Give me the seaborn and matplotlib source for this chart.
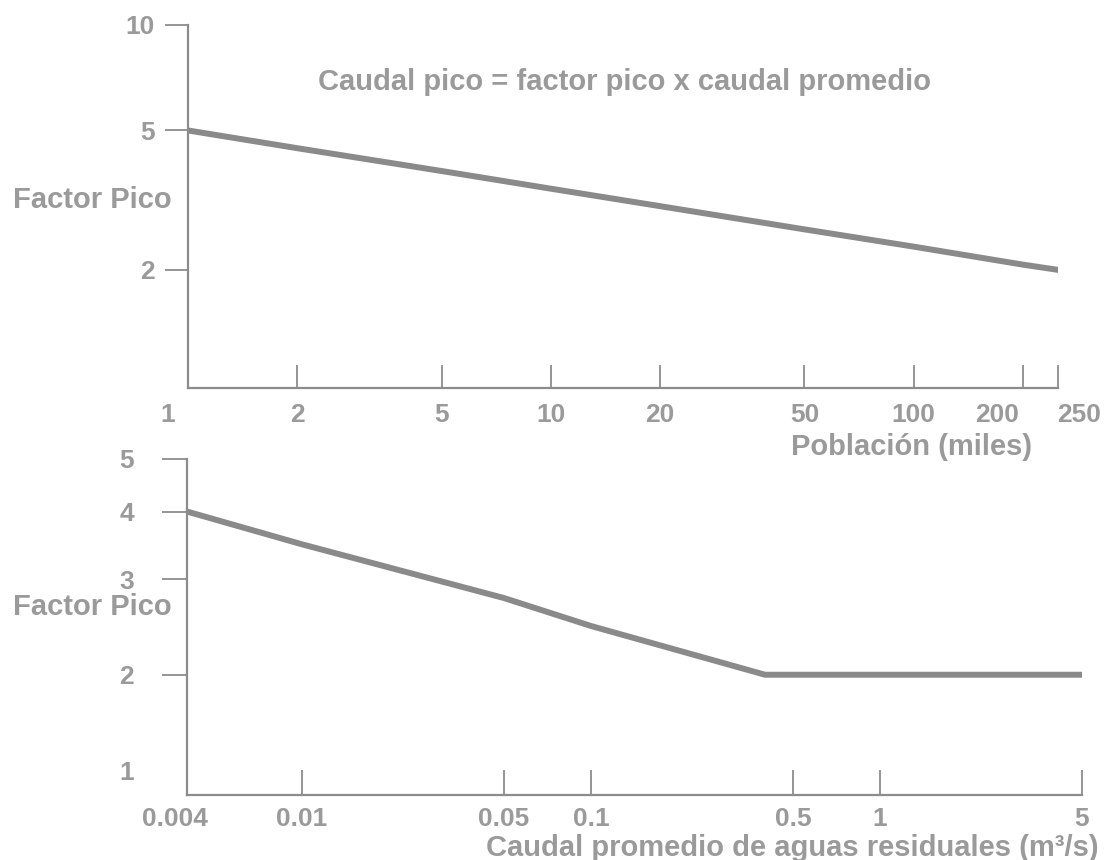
import seaborn as sns
import matplotlib.pyplot as plt
from matplotlib.ticker import NullLocator

# curva superior: factor pico vs poblacion (miles)
poblacion = [1, 2, 5, 10, 20, 50, 100, 200, 250]
factor_pob = [5.0, 4.45, 3.83, 3.41, 3.04, 2.61, 2.33, 2.07, 2.0]

# curva inferior: factor pico vs caudal promedio (m3/s)
caudal = [0.004, 0.01, 0.05, 0.1, 0.4, 5]
factor_caudal = [4.0, 3.48, 2.77, 2.46, 2.0, 2.0]

pob_ticks = [1, 2, 5, 10, 20, 50, 100, 200, 250]
pob_labels = ["1", "2", "5", "10", "20", "50", "100", "200", "250"]
pob_yticks = [2, 5, 10]
caudal_ticks = [0.004, 0.01, 0.05, 0.1, 0.5, 1, 5]
caudal_labels = ["0.004", "0.01", "0.05", "0.1", "0.5", "1", "5"]
caudal_yticks = [2, 3, 4, 5]
caudal_ymin_label = "1"

titulo = "Caudal pico = factor pico x caudal promedio"
ylabel = "Factor Pico"
xlabel_top = "Población (miles)"
xlabel_bot = "Caudal promedio de aguas residuales (m³/s)"

sns.set_style("ticks")
plt.rcParams["font.family"] = ["Liberation Sans", "DejaVu Sans"]
plt.rcParams["font.weight"] = "bold"

TXT = "#9a9a9a"
AX = "#8c8c8c"
LINE = "#8a8a8a"
PX = 72 / 100  # points per pixel
FS_TICK = 19
FS_LAB = 21

fig = plt.figure(figsize=(11.06, 8.6), dpi=100)
W, H = 1106, 860

def axes_px(l, t, r, b):
    return fig.add_axes([l / W, 1 - b / H, (r - l) / W, (b - t) / H])

def style(ax, tick_len, ypad):
    sns.despine(ax=ax)
    for s in ["left", "bottom"]:
        ax.spines[s].set_color(AX)
        ax.spines[s].set_linewidth(1.6)
    ax.tick_params(axis="x", which="major", direction="in", length=tick_len * PX,
                   width=1.3, color=AX, bottom=True, labelbottom=False)
    ax.tick_params(axis="y", which="major", direction="out", length=tick_len * PX,
                   width=1.3, color=AX, left=True, pad=ypad * PX,
                   labelsize=FS_TICK, labelcolor=TXT)
    ax.xaxis.set_minor_locator(NullLocator())
    ax.yaxis.set_minor_locator(NullLocator())

# ---- grafico superior ----
ax1 = axes_px(188, 25, 1058, 388)
sns.lineplot(x=poblacion, y=factor_pob, ax=ax1, color=LINE, lw=4.3, sort=False)
ax1.set_xscale("log")
ax1.set_yscale("log")
ax1.set_xlim(1, 250)
ax1.set_ylim(0.92, 10)
ax1.set_xticks(pob_ticks)
ax1.set_yticks(pob_yticks, [str(v) for v in pob_yticks])
style(ax1, 23, 10)
pob_dx = {"1": -20, "200": -26, "250": 21}
for v, lab in zip(pob_ticks, pob_labels):
    ax1.annotate(lab, xy=(v, 0), xycoords=("data", "axes fraction"),
                 xytext=(pob_dx.get(lab, 0) * PX, -15 * PX), textcoords="offset points",
                 ha="center", va="top", fontsize=FS_TICK, color=TXT, fontweight="bold")

# ---- grafico inferior ----
ax2 = axes_px(187, 459, 1082, 795)
sns.lineplot(x=caudal, y=factor_caudal, ax=ax2, color=LINE, lw=4.3, sort=False)
ax2.set_xscale("log")
ax2.set_yscale("log")
ax2.set_xlim(0.004, 5)
ax2.set_ylim(1.2, 5)
ax2.set_xticks(caudal_ticks)
ax2.set_yticks(caudal_yticks, [str(v) for v in caudal_yticks])
style(ax2, 25, 28)
ax2.set_yticks([1.33], [caudal_ymin_label], minor=True)
ax2.tick_params(axis="y", which="minor", length=0, pad=53 * PX,
                labelsize=FS_TICK, labelcolor=TXT)
caudal_dx = {"0.004": -12}
for v, lab in zip(caudal_ticks, caudal_labels):
    ax2.annotate(lab, xy=(v, 0), xycoords=("data", "axes fraction"),
                 xytext=(caudal_dx.get(lab, 0) * PX, -12 * PX), textcoords="offset points",
                 ha="center", va="top", fontsize=FS_TICK, color=TXT, fontweight="bold")

# ---- textos ----
fig.text(624 / W, 1 - 82 / H, titulo, ha="center", va="center",
         fontsize=FS_LAB, color=TXT, fontweight="bold")
fig.text(13 / W, 1 - 200 / H, ylabel, ha="left", va="center",
         fontsize=FS_LAB, color=TXT, fontweight="bold")
fig.text(13 / W, 1 - 607 / H, ylabel, ha="left", va="center",
         fontsize=FS_LAB, color=TXT, fontweight="bold")
fig.text(1032 / W, 1 - 447 / H, xlabel_top, ha="right", va="center",
         fontsize=FS_LAB, color=TXT, fontweight="bold")
fig.text(1099 / W, 1 - 848 / H, xlabel_bot, ha="right", va="center",
         fontsize=FS_LAB, color=TXT, fontweight="bold")

fig.savefig("out.png", dpi=100, facecolor="white")
